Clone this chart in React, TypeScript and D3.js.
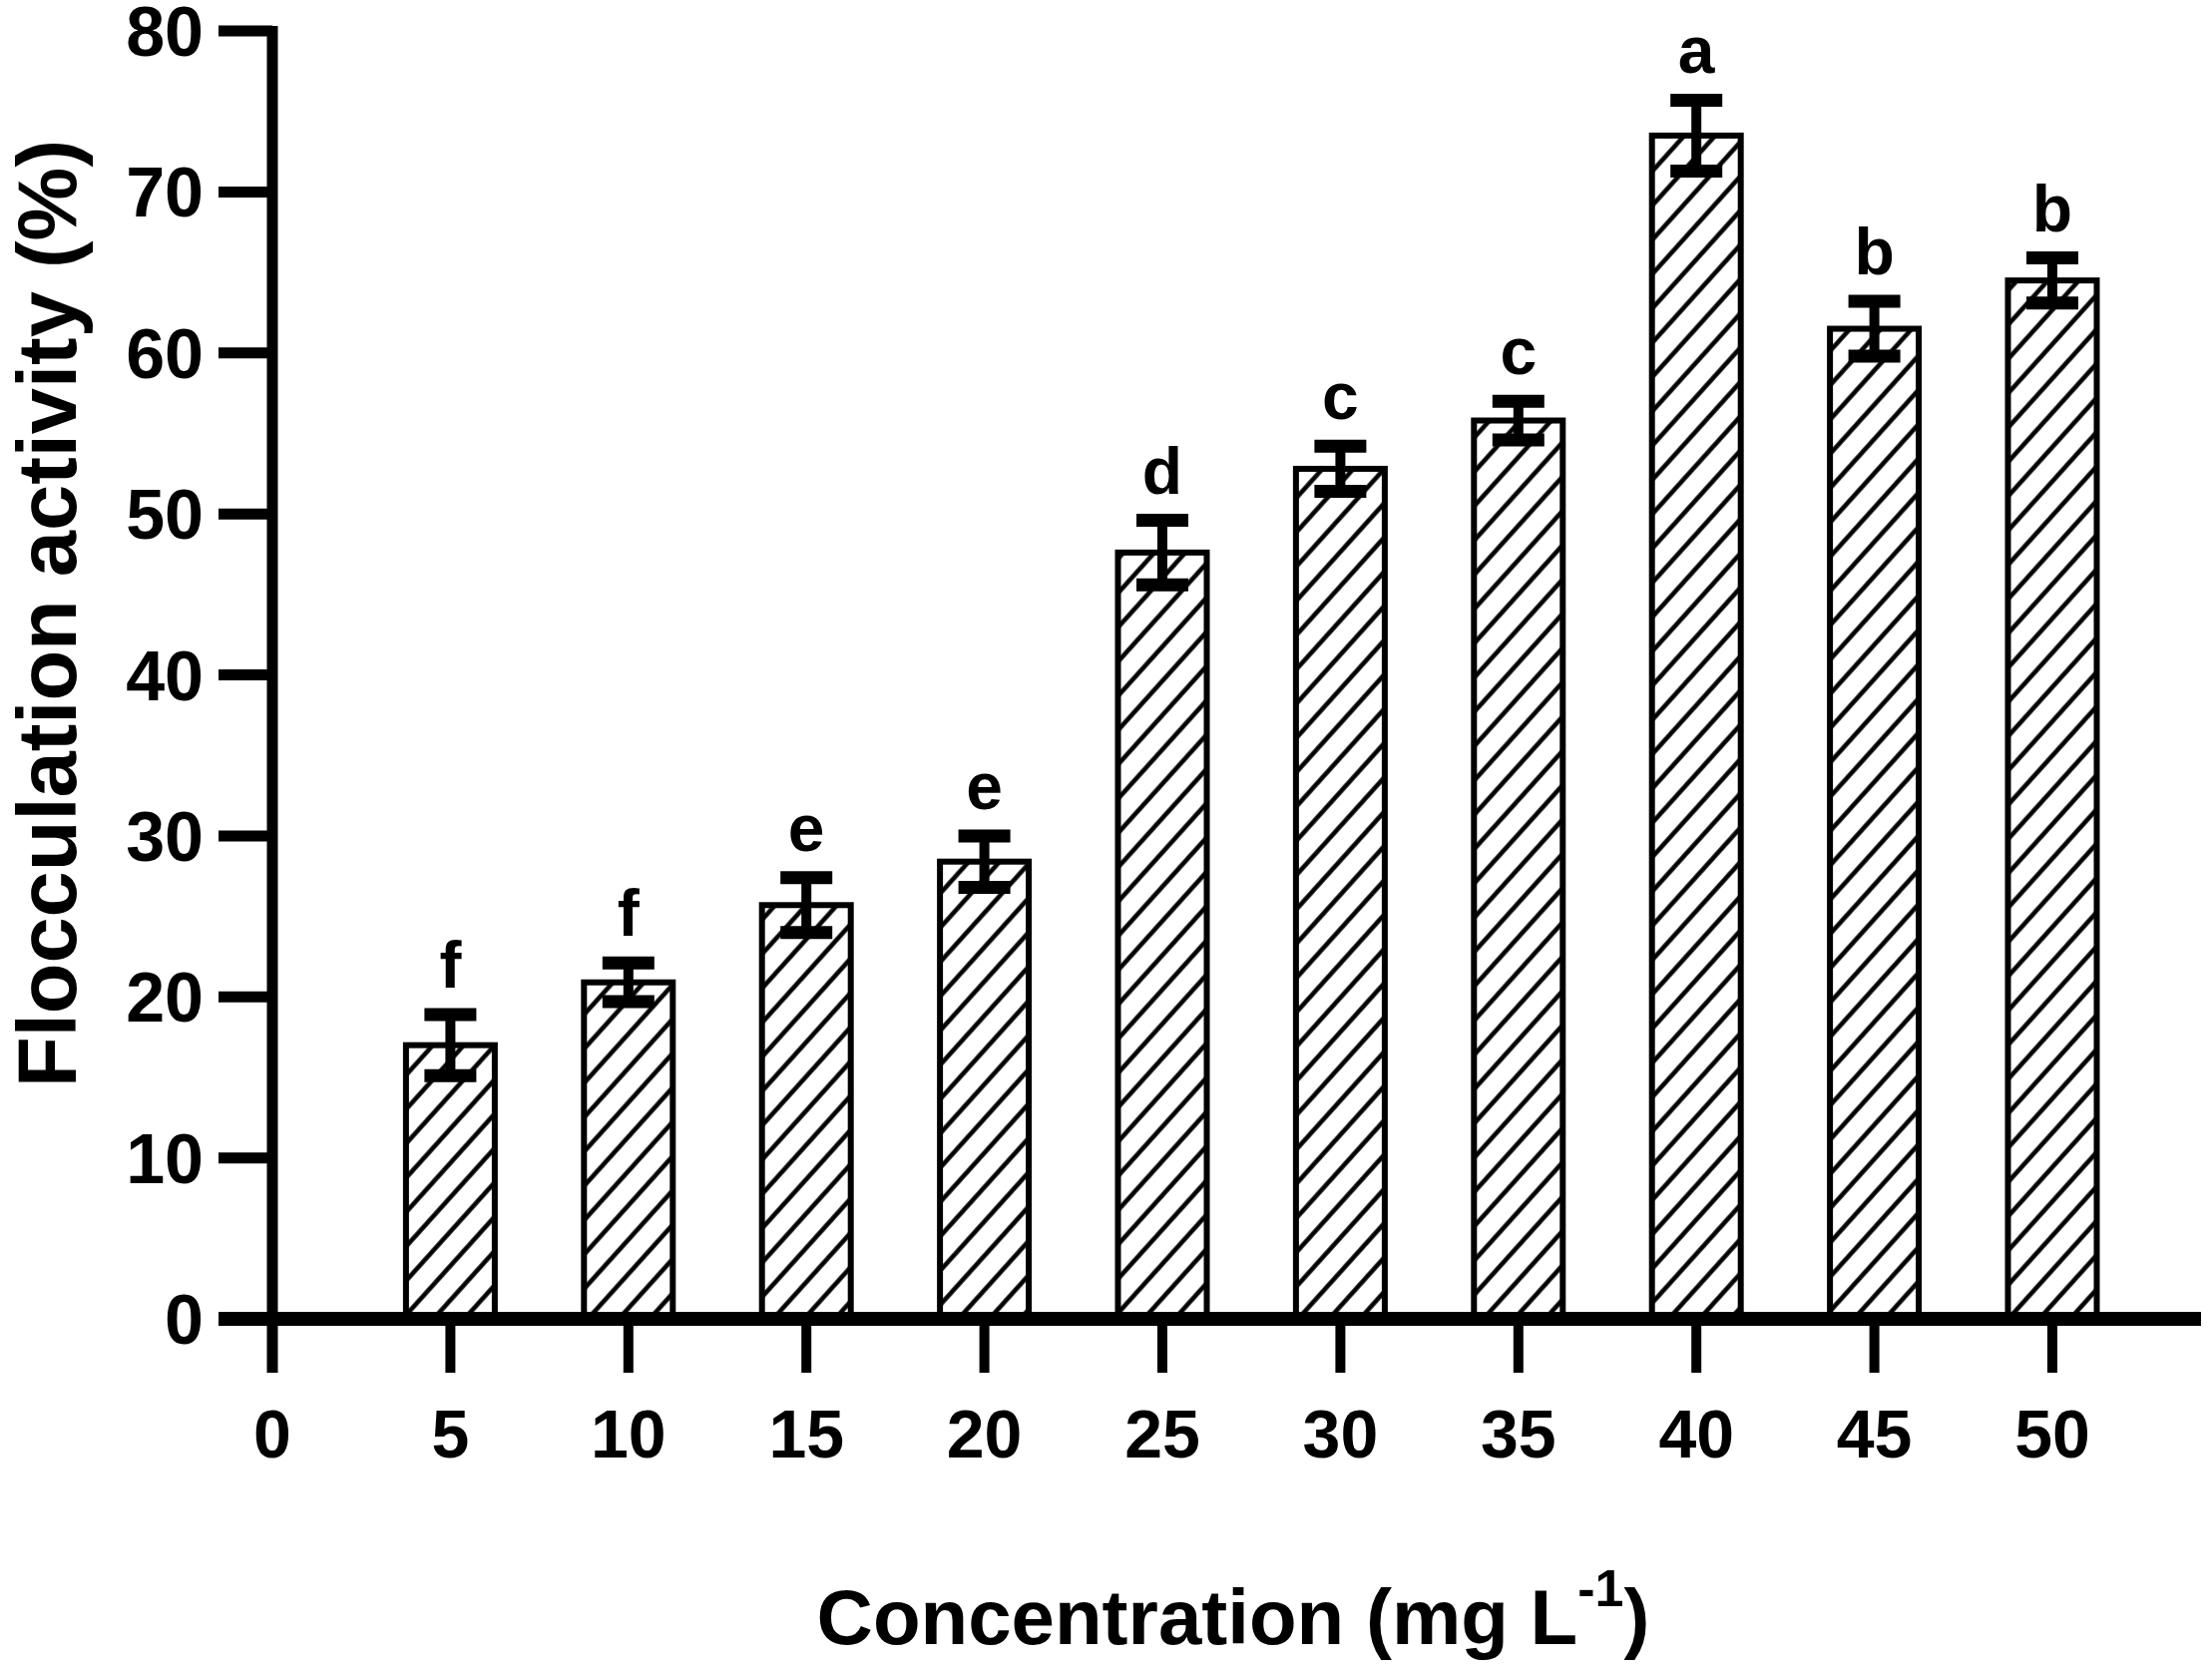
import React from "react";
import * as d3 from "d3";

const concentrations = [5, 10, 15, 20, 25, 30, 35, 40, 45, 50];
const means = [17.0, 20.9, 25.7, 28.4, 47.6, 52.8, 55.8, 73.5, 61.5, 64.5];
const errors = [1.9, 1.2, 1.7, 1.6, 2.0, 1.4, 1.2, 2.2, 1.7, 1.4];
const letters = ["f", "f", "e", "e", "d", "c", "c", "a", "b", "b"];
const xTicks = [0, 5, 10, 15, 20, 25, 30, 35, 40, 45, 50];
const yTicks = [0, 10, 20, 30, 40, 50, 60, 70, 80];

const W = 2217;
const H = 1677;
const FONT = "'Liberation Sans', Arial, Helvetica, sans-serif";

export default function App() {
  const x = d3.scaleLinear().domain([0, 50]).range([273, 2057]);
  const y = d3.scaleLinear().domain([0, 80]).range([1322, 31]);

  const barW = 89;
  const capW = 52;
  const tickLen = 54;

  return (
    <svg
      width={W}
      height={H}
      style={{ position: "absolute", left: 0, top: 0, background: "#fff" }}
      fontFamily={FONT}
    >
      <defs>
        {/* diagonal hatch, rising to the right */}
        <pattern
          id="hatch"
          patternUnits="userSpaceOnUse"
          width={40}
          height={23}
          patternTransform="rotate(-48)"
        >
          <line x1={-5} x2={45} y1={11.5} y2={11.5} stroke="#000" strokeWidth={4.5} />
        </pattern>
      </defs>

      {/* bars */}
      {concentrations.map((c, i) => (
        <rect
          key={`bar/${c}`}
          x={x(c) - barW / 2}
          y={y(means[i])}
          width={barW}
          height={y(0) - y(means[i])}
          fill="url(#hatch)"
          stroke="#000"
          strokeWidth={6}
        />
      ))}

      {/* error bars */}
      {concentrations.map((c, i) => {
        const cx = x(c);
        const top = y(means[i] + errors[i]);
        const bot = y(means[i] - errors[i]);
        return (
          <g key={`err/${c}`} stroke="#000">
            <line x1={cx} x2={cx} y1={top} y2={bot} strokeWidth={10} />
            <line x1={cx - capW / 2} x2={cx + capW / 2} y1={top} y2={top} strokeWidth={13} />
            <line x1={cx - capW / 2} x2={cx + capW / 2} y1={bot} y2={bot} strokeWidth={13} />
          </g>
        );
      })}

      {/* significance letters */}
      {concentrations.map((c, i) => (
        <text
          key={`lab/${c}`}
          x={x(c)}
          y={y(means[i] + errors[i]) - 27}
          textAnchor="middle"
          fontSize={66}
          fontWeight="bold"
        >
          {letters[i]}
        </text>
      ))}

      {/* y axis */}
      <line x1={x(0)} x2={x(0)} y1={y(80) - 5} y2={y(0)} stroke="#000" strokeWidth={11} />
      {yTicks.map((t) => (
        <g key={`yt/${t}`}>
          <line
            x1={x(0) - tickLen}
            x2={x(0)}
            y1={y(t)}
            y2={y(t)}
            stroke="#000"
            strokeWidth={11}
          />
          <text
            x={x(0) - tickLen - 15}
            y={y(t) + 25}
            textAnchor="end"
            fontSize={70}
            fontWeight="bold"
          >
            {t}
          </text>
        </g>
      ))}

      {/* x axis */}
      <line x1={x(0) - tickLen} x2={2206} y1={y(0)} y2={y(0)} stroke="#000" strokeWidth={14} />
      {xTicks.map((t) => (
        <g key={`xt/${t}`}>
          <line
            x1={x(t)}
            x2={x(t)}
            y1={y(0)}
            y2={y(0) + tickLen}
            stroke="#000"
            strokeWidth={t === 0 ? 11 : 10}
          />
          <text x={x(t)} y={1461} textAnchor="middle" fontSize={68} fontWeight="bold">
            {t}
          </text>
        </g>
      ))}

      {/* axis titles */}
      <text
        transform="translate(76,615) rotate(-90)"
        textAnchor="middle"
        fontSize={83}
        fontWeight="bold"
      >
        Flocculation activity (%)
      </text>
      <text x={1236} y={1648} textAnchor="middle" fontSize={78} fontWeight="bold">
        Concentration (mg L
        <tspan fontSize={52} dy={-38}>
          -1
        </tspan>
        <tspan dy={38}>)</tspan>
      </text>
    </svg>
  );
}
